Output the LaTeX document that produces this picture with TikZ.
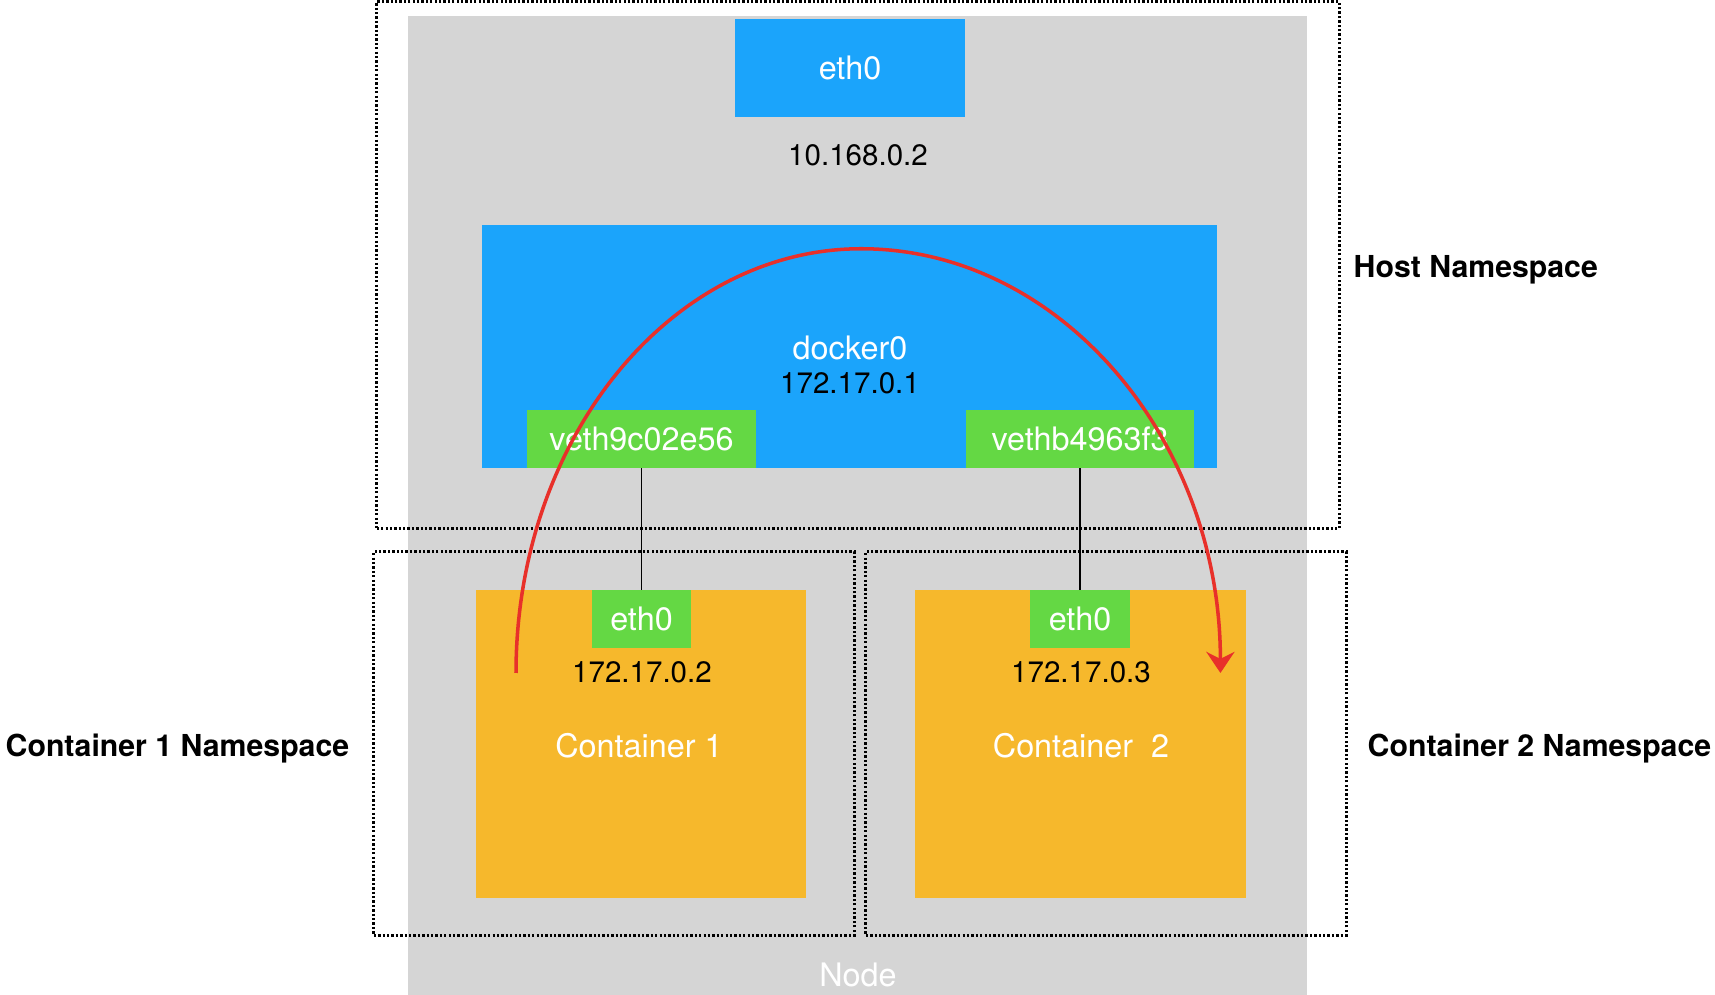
\documentclass[tikz,border=0pt]{standalone}
\usepackage{fontspec}
\setmainfont{TeX Gyre Heros}
\usetikzlibrary{arrows.meta}
\definecolor{nodegray}{HTML}{D5D5D5}
\definecolor{ifblue}{HTML}{1BA4FB}
\definecolor{ifgreen}{HTML}{64D844}
\definecolor{ctorange}{HTML}{F6B82C}
\definecolor{flowred}{HTML}{E8302A}
\tikzset{
  box/.style={rectangle, inner sep=0pt, outer sep=0pt, draw=none},
  grayarea/.style={box, fill=nodegray},
  bluebox/.style={box, fill=ifblue, text=white, font=\fontsize{9.2}{11}\selectfont},
  greenbox/.style={box, fill=ifgreen, text=white, font=\fontsize{9.2}{11}\selectfont},
  orangebox/.style={box, fill=ctorange},
  nsbox/.style={box, draw=black, line width=0.9pt, dash pattern=on 0.65pt off 0.6pt},
  whitelabel/.style={inner sep=0pt, text=white, font=\fontsize{9.2}{11}\selectfont},
  iplabel/.style={inner sep=0pt, text=black, font=\fontsize{8.4}{10}\selectfont},
  nslabel/.style={inner sep=0pt, anchor=west, text=black, font=\fontsize{8.6}{10}\selectfont\bfseries},
  wire/.style={draw=black, line width=0.45pt},
  flow/.style={draw=flowred, line width=1pt, -{Stealth[length=6pt,width=8pt,inset=2pt]}}
}
\begin{document}
\begin{tikzpicture}[x=0.01cm, y=-0.01cm]
\useasboundingbox (0,0) rectangle (1715,995);
% gray node area
\node[grayarea, minimum width=8.99cm, minimum height=9.79cm] (bg) at (857.5,505.5) {};
% host interfaces
\node[bluebox, minimum width=2.30cm, minimum height=0.98cm] (eth0h) at (850,68) {eth0};
\node[iplabel] (iph) at (858,155) {10.168.0.2};
\node[bluebox, minimum width=7.35cm, minimum height=2.43cm] (docker) at (849.5,346.5) {};
\node[whitelabel] (dockerlbl) at (850,348) {docker0};
\node[iplabel] (dockerip) at (850,383) {172.17.0.1};
\node[greenbox, minimum width=2.29cm, minimum height=0.58cm] (veth1) at (641.5,439) {veth9c02e56};
\node[greenbox, minimum width=2.28cm, minimum height=0.58cm] (veth2) at (1080,439) {vethb4963f3};
% containers
\node[orangebox, minimum width=3.30cm, minimum height=3.08cm] (c1) at (641,744) {};
\node[orangebox, minimum width=3.31cm, minimum height=3.08cm] (c2) at (1080.5,744) {};
\node[greenbox, minimum width=0.99cm, minimum height=0.58cm] (ceth1) at (641.5,619) {eth0};
\node[greenbox, minimum width=1.00cm, minimum height=0.58cm] (ceth2) at (1080,619) {eth0};
\node[iplabel] (ip1) at (642,672) {172.17.0.2};
\node[iplabel] (ip2) at (1081,672) {172.17.0.3};
\node[whitelabel] (c1lbl) at (639,746) {Container 1};
\node[whitelabel] (c2lbl) at (1081,746) {Container\ \ 2};
\node[whitelabel] (nodelbl) at (858,975) {Node};
% namespaces
\node[nsbox, minimum width=9.62cm, minimum height=5.26cm] (hostns) at (858,265) {};
\node[nsbox, minimum width=4.80cm, minimum height=3.83cm] (c1ns) at (614,743.5) {};
\node[nsbox, minimum width=4.80cm, minimum height=3.83cm] (c2ns) at (1106,743.5) {};
\node[nslabel] (hostnslbl) at (1353,270) {Host Namespace};
\node[nslabel] (c1nslbl) at (5,749) {Container 1 Namespace};
\node[nslabel] (c2nslbl) at (1367,749) {Container 2 Namespace};
% wires
\draw[wire] (veth1.south) -- (ceth1.north);
\draw[wire] (veth2.south) -- (ceth2.north);
% flow arc
\coordinate (arcstart) at (516,673);
\draw[flow] (arcstart) arc[start angle=180, end angle=90, x radius=3.45cm, y radius=4.24cm]
  arc[start angle=90, end angle=0, x radius=3.59cm, y radius=4.24cm];
\end{tikzpicture}
\end{document}
